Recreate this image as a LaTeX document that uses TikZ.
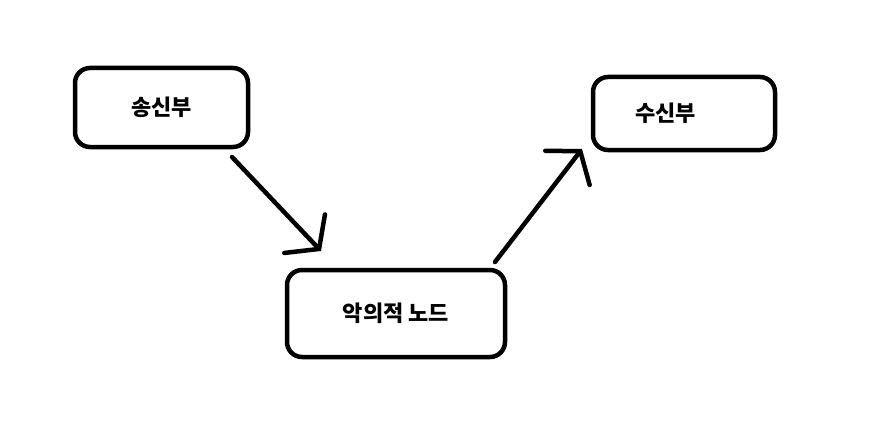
\documentclass[tikz,border=0pt]{standalone}
\usepackage{fontspec}
\newfontfamily\kr{Noto Sans CJK KR}
\usetikzlibrary{arrows.meta}
\begin{document}
\begin{tikzpicture}[x=1pt,y=-1pt,
    box/.style={draw,line width=4.5pt,rounded corners=15pt,inner sep=0pt,font=\kr\bfseries\fontsize{22}{26}\selectfont},
    sendarrow/.style={line width=4.5pt,line cap=round,-{Straight Barb[length=21pt,width=56pt,line cap=round]}}]
        \useasboundingbox (0,0) rectangle (887,444);
        % sender
        \node[box,minimum width=173pt,minimum height=79pt] (send) at (161.5,107.5) {송신부};
        % receiver (text sits left of centre)
        \node[box,minimum width=182pt,minimum height=73pt] (recv) at (684,113.5) {수신부\kern37pt};
        % malicious node in the middle
        \node[box,minimum width=218pt,minimum height=87pt] (evil) at (396,313.5) {악의적 노드};
        % arrow ends
        \coordinate (a1s) at (232,157);
        \coordinate (a1e) at (321,251);
        \coordinate (a2s) at (495,262);
        \coordinate (a2e) at (582,149);
        \draw[sendarrow] (a1s) -- (a1e);
        \draw[sendarrow] (a2s) -- (a2e);
    \end{tikzpicture}
\end{document}
